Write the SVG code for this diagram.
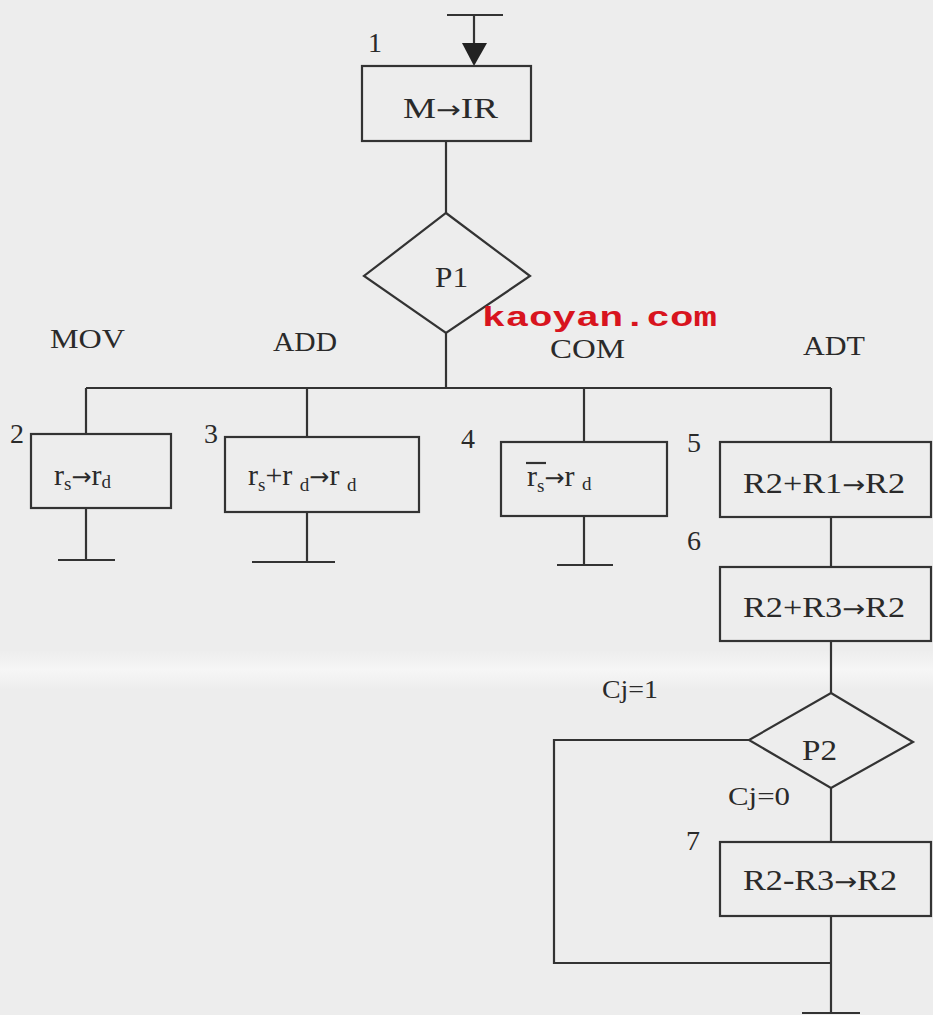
<svg xmlns="http://www.w3.org/2000/svg" width="933" height="1015" viewBox="0 0 933 1015">
<style>
.ln{stroke:#333;stroke-width:2.2;fill:none}
.bx{stroke:#333;stroke-width:2.2;fill:none}
.t{font-family:"Liberation Serif","Times New Roman",serif;fill:#2a2a2a}
.bt{font-size:30px}
.lb{font-size:28px}
.sub{font-size:19px}
.ar{font-family:"DejaVu Sans","Liberation Sans",sans-serif;font-size:24px}
.cj{font-size:26px}
.wm{font-family:"Liberation Mono","DejaVu Sans Mono",monospace;font-weight:bold;font-size:28px;fill:#d8141e}
</style>
<defs>
<linearGradient id="crease" x1="0" y1="0" x2="0" y2="1">
<stop offset="0" stop-color="#f7f7f7" stop-opacity="0"/>
<stop offset="0.5" stop-color="#f7f7f7" stop-opacity="0.9"/>
<stop offset="1" stop-color="#f7f7f7" stop-opacity="0"/>
</linearGradient>
</defs>
<rect x="0" y="0" width="933" height="1015" fill="#ededed"/>
<rect x="0" y="650" width="933" height="40" fill="url(#crease)"/>

<g id="connectors">
<line class="ln" x1="447" y1="15" x2="503" y2="15"/>
<line class="ln" x1="474" y1="15" x2="474" y2="45"/>
<path d="M462,43 L487,43 L474,66 z" fill="#222"/>
<line class="ln" x1="446" y1="141" x2="446" y2="213"/>
<line class="ln" x1="446" y1="333" x2="446" y2="388"/>
<line class="ln" x1="86" y1="388" x2="831" y2="388"/>
<line class="ln" x1="86" y1="388" x2="86" y2="434"/>
<line class="ln" x1="307" y1="388" x2="307" y2="437"/>
<line class="ln" x1="584" y1="388" x2="584" y2="442"/>
<line class="ln" x1="831" y1="388" x2="831" y2="442"/>
<line class="ln" x1="86" y1="508" x2="86" y2="560"/>
<line class="ln" x1="58" y1="560" x2="115" y2="560"/>
<line class="ln" x1="307" y1="512" x2="307" y2="562"/>
<line class="ln" x1="252" y1="562" x2="335" y2="562"/>
<line class="ln" x1="584" y1="516" x2="584" y2="565"/>
<line class="ln" x1="557" y1="565" x2="613" y2="565"/>
<line class="ln" x1="831" y1="517" x2="831" y2="567"/>
<line class="ln" x1="831" y1="641" x2="831" y2="693"/>
<line class="ln" x1="831" y1="788" x2="831" y2="842"/>
<polyline class="ln" points="749,740 554,740 554,963 831,963"/>
<line class="ln" x1="831" y1="916" x2="831" y2="1013"/>
<line class="ln" x1="802" y1="1013" x2="860" y2="1013"/>
</g>

<g id="n1">
<rect class="bx" x="362" y="66" width="169" height="75"/>
<text class="t bt" x="403" y="118" textLength="95" lengthAdjust="spacingAndGlyphs">M<tspan class="ar">→</tspan>IR</text>
<text class="t lb" x="368" y="52">1</text>
</g>

<g id="p1">
<polygon class="bx" points="446,213 530,276 446,333 364,276"/>
<text class="t bt" x="435" y="287" textLength="33" lengthAdjust="spacingAndGlyphs">P1</text>
</g>

<g id="branch-labels">
<text class="t lb" x="50" y="348" textLength="75" lengthAdjust="spacingAndGlyphs">MOV</text>
<text class="t lb" x="273" y="351" textLength="64" lengthAdjust="spacingAndGlyphs">ADD</text>
<text class="t lb" x="550" y="358" textLength="75" lengthAdjust="spacingAndGlyphs" fill="#4a5060">COM</text>
<text class="t lb" x="803" y="355" textLength="62" lengthAdjust="spacingAndGlyphs">ADT</text>
</g>

<g id="n2">
<rect class="bx" x="31" y="434" width="140" height="74"/>
<text class="t bt" x="54" y="485">r<tspan class="sub" dy="5">s</tspan><tspan class="ar" dy="-5">→</tspan>r<tspan class="sub" dy="3">d</tspan></text>
<text class="t lb" x="10" y="443">2</text>
</g>

<g id="n3">
<rect class="bx" x="225" y="437" width="194" height="75"/>
<text class="t bt" x="248" y="485">r<tspan class="sub" dy="6">s</tspan><tspan dy="-6">+r </tspan><tspan class="sub" dy="6">d</tspan><tspan class="ar" dy="-6">→</tspan>r <tspan class="sub" dy="6">d</tspan></text>
<text class="t lb" x="204" y="443">3</text>
</g>

<g id="n4">
<rect class="bx" x="501" y="442" width="166" height="74"/>
<line class="ln" x1="526" y1="463" x2="546" y2="463"/>
<text class="t bt" x="527" y="486">r<tspan class="sub" dy="6">s</tspan><tspan class="ar" dy="-6">→</tspan>r <tspan class="sub" dy="4">d</tspan></text>
<text class="t lb" x="461" y="448">4</text>
</g>

<g id="n5">
<rect class="bx" x="720" y="442" width="211" height="75"/>
<text class="t bt" x="743" y="493" textLength="162" lengthAdjust="spacingAndGlyphs">R2+R1<tspan class="ar">→</tspan>R2</text>
<text class="t lb" x="687" y="452">5</text>
</g>

<g id="n6">
<rect class="bx" x="720" y="567" width="211" height="74"/>
<text class="t bt" x="743" y="617" textLength="162" lengthAdjust="spacingAndGlyphs">R2+R3<tspan class="ar">→</tspan>R2</text>
<text class="t lb" x="687" y="550">6</text>
</g>

<g id="p2">
<polygon class="bx" points="831,693 913,742 831,788 749,740"/>
<text class="t bt" x="802" y="760" textLength="35" lengthAdjust="spacingAndGlyphs">P2</text>
<text class="t cj" x="602" y="698" textLength="56" lengthAdjust="spacingAndGlyphs">Cj=1</text>
<text class="t cj" x="728" y="805" textLength="62" lengthAdjust="spacingAndGlyphs">Cj=0</text>
</g>

<g id="n7">
<rect class="bx" x="720" y="842" width="211" height="74"/>
<text class="t bt" x="743" y="890" textLength="154" lengthAdjust="spacingAndGlyphs">R2-R3<tspan class="ar">→</tspan>R2</text>
<text class="t lb" x="686" y="850">7</text>
</g>

<text class="wm" x="482" y="326" textLength="235" lengthAdjust="spacingAndGlyphs">kaoyan.com</text>
</svg>
